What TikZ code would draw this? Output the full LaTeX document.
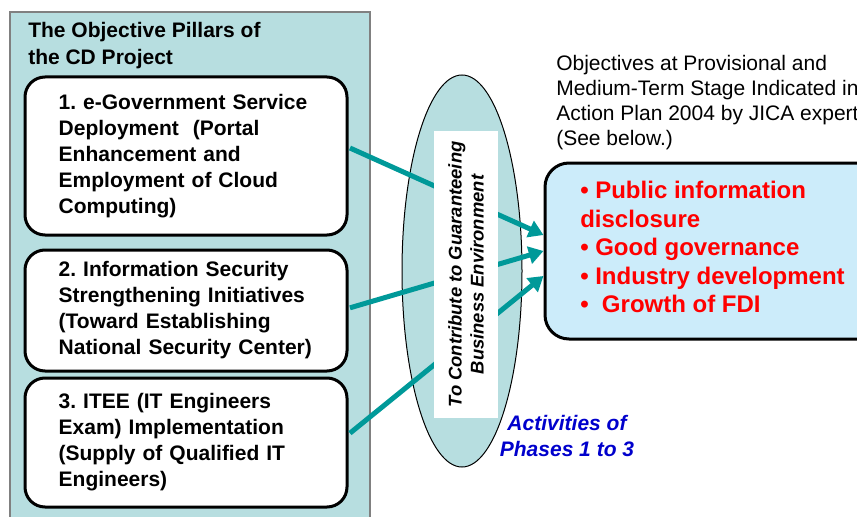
\documentclass[tikz,border=0pt]{standalone}
\usepackage{fontspec}
\setmainfont{Liberation Sans}
\usetikzlibrary{shapes.geometric,arrows.meta}
\definecolor{panel}{RGB}{183,222,224}
\definecolor{objfill}{RGB}{204,236,250}
\definecolor{arrowteal}{RGB}{0,153,153}
\definecolor{redtxt}{RGB}{255,0,0}
\definecolor{bluetxt}{RGB}{0,0,204}
\frenchspacing
\begin{document}
\begin{tikzpicture}[x=0.75pt,y=-0.75pt,
  pillar/.style={draw=black, line width=2.25pt, rounded corners=15pt, fill=white,
    minimum width=241.5pt, text width=191pt, inner xsep=25.25pt, align=left,
    font=\fontsize{15.75}{19.5}\selectfont\bfseries},
  link/.style={draw=arrowteal, line width=3.75pt, -{Triangle[length=11pt,width=13pt]}},
  plain/.style={inner sep=0pt, align=left}]
\useasboundingbox (0,0) rectangle (857,517);
\clip (0,0) rectangle (857,517);
% left panel
\node[draw=gray, line width=1.5pt, fill=panel, minimum width=270pt, minimum height=396pt, inner sep=0pt] (panel) at (190,276) {};
\node[plain, anchor=north west, font=\fontsize{15.75}{20.25}\selectfont\bfseries] (title) at (28,22) {The Objective Pillars of\\the CD Project};
% ellipse
\node[ellipse, draw=black, line width=0.75pt, fill=panel, minimum width=90pt, minimum height=294pt, inner sep=0pt] (ell) at (462,271) {};
% pillars
\node[pillar, minimum height=118.5pt] (b1) at (186,156) {1. e-Government Service\\Deployment\ \ (Portal\\Enhancement and\\Employment of Cloud\\Computing)};
\node[pillar, minimum height=90.75pt] (b2) at (186,310.5) {2. Information Security\\Strengthening Initiatives\\(Toward Establishing\\National Security Center)};
\node[pillar, minimum height=96.75pt] (b3) at (186,442.5) {3. ITEE (IT Engineers\\Exam) Implementation\\(Supply of Qualified IT\\Engineers)};
% objectives box
\node[draw=black, line width=2.25pt, rounded corners=18pt, fill=objfill, minimum width=255pt, minimum height=132pt, inner sep=0pt] (obj) at (715,251) {};
% arrows
\draw[link] ([xshift=1.1pt,yshift=6pt]b1.east) -- ([yshift=12pt]obj.west);
\draw[link] ([xshift=1.1pt,yshift=2pt]b2.east) -- (obj.west);
\draw[link] ([xshift=1.1pt,yshift=7pt]b3.east) -- ([yshift=-18.75pt]obj.west);
% white band with rotated text
\node[rotate=90, fill=white, minimum width=215.25pt, minimum height=48pt, inner sep=0pt, align=center,
  font=\fontsize{13.8}{16.5}\selectfont\bfseries\itshape] (wr) at (466,274.5) {To Contribute to Guaranteeing\\Business Environment};
% texts
\node[plain, anchor=north west, text=redtxt, font=\fontsize{18}{21.4}\selectfont\bfseries] (objtxt) at (580,181)
  {\textbullet\ Public information\\disclosure\\\textbullet\ Good governance\\\textbullet\ Industry development\\\textbullet\ \ Growth of FDI};
\node[plain, anchor=north west, font=\fontsize{15.75}{18.75}\selectfont] (note) at (556,55)
  {Objectives at Provisional and\\Medium-Term Stage Indicated in\\Action Plan 2004 by JICA expert\\(See below.)};
\node[inner sep=0pt, align=center, text=bluetxt, font=\fontsize{15.75}{19.5}\selectfont\bfseries\itshape] (act) at (567,436) {Activities of\\Phases 1 to 3};
\end{tikzpicture}
\end{document}
